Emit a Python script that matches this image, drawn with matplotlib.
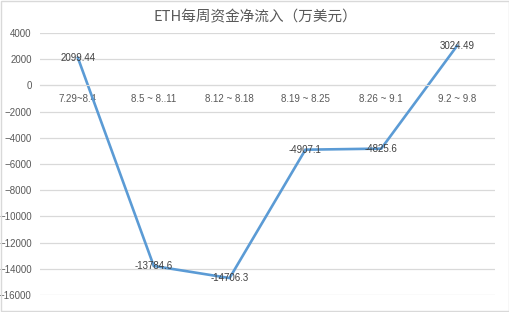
import matplotlib.pyplot as plt
from matplotlib.patches import Rectangle

plt.rcParams['font.family'] = ['Liberation Sans', 'Noto Sans CJK SC', 'DejaVu Sans']

weeks = ['7.29~8.4', '8.5 ~ 8..11', '8.12 ~ 8.18', '8.19 ~ 8.25', '8.26 ~ 9.1', '9.2 ~ 9.8']
inflow = [2099.44, -13784.6, -14706.3, -4907.1, -4825.6, 3024.49]
labels = ['2099.44', '-13784.6', '-14706.3', '-4907.1', '-4825.6', '3024.49']

fig = plt.figure(figsize=(5.1, 3.12), dpi=100)
ax = fig.add_axes([40 / 510, 1 - 295 / 312, 455 / 510, 262 / 312])

x = list(range(len(weeks)))
ax.plot(x, inflow, color='#5b9bd5', linewidth=1.9, solid_joinstyle='miter')
for xi, v, t in zip(x, inflow, labels):
    ax.text(xi, v, t, ha='center', va='center', fontsize=7, color='#404040')

ax.set_xlim(-0.5, 5.5)
ax.set_ylim(-16000, 4000)
ax.set_yticks(range(-16000, 4001, 2000))
ax.yaxis.grid(True, color='#d9d9d9', linewidth=0.9)
ax.set_axisbelow(True)
for s in ['top', 'right', 'left']:
    ax.spines[s].set_visible(False)
ax.spines['bottom'].set_position(('data', 0))
ax.spines['bottom'].set_color('#d9d9d9')
ax.set_xticks(x)
ax.set_xticklabels(weeks)
ax.tick_params(axis='x', length=0, pad=6, labelsize=7, labelcolor='#595959')
ax.tick_params(axis='y', length=0, pad=6, labelsize=7, labelcolor='#595959')

fig.text(0.5, 1 - 17 / 312, 'ETH每周资金净流入（万美元）', ha='center', va='center',
         fontsize=10.5, color='#595959', family=['Noto Sans CJK SC', 'DejaVu Sans'])
fig.patches.append(Rectangle((0.002, 0.003), 0.996, 0.994, transform=fig.transFigure,
                             fill=False, edgecolor='#d9d9d9', linewidth=1))

fig.savefig('out.png', dpi=100)
